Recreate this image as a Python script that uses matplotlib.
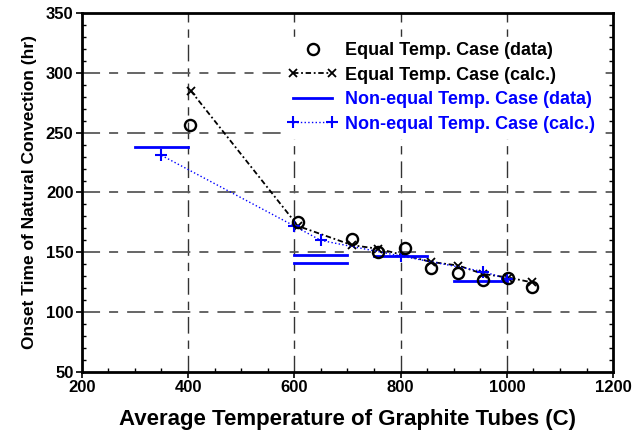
import numpy as np
import matplotlib
matplotlib.use('Agg')
import matplotlib.pyplot as plt
from matplotlib.lines import Line2D
from matplotlib.legend_handler import HandlerLine2D
from matplotlib.ticker import MultipleLocator

plt.rcParams['font.family'] = ['Liberation Sans', 'DejaVu Sans']
plt.rcParams['font.weight'] = 'bold'

# equal temperature case
eq_data_x = [403, 607, 708, 758, 808, 858, 909, 955, 1003, 1047]
eq_data_y = [256, 175, 161, 150, 154, 137, 133, 127, 129, 121]
eq_calc_x = [405, 607, 709, 758, 858, 909, 955, 1003, 1047]
eq_calc_y = [285, 172, 156, 153, 142, 139, 132, 129, 125]

# non-equal temperature case: measured ranges (x from, x to, y)
neq_data_x0 = [300, 600, 600, 750, 900]
neq_data_x1 = [400, 700, 700, 850, 1000]
neq_data_y = [238, 148, 141, 147, 126]
neq_calc_x = [350, 600, 650, 800, 955, 1000]
neq_calc_y = [231, 172, 160, 147, 134, 128]

blue = '#0000ff'

fig = plt.figure(figsize=(6.44, 4.42), dpi=100)
ax = fig.add_axes([0.127, 0.158, 0.825, 0.813])

ax.set_xlim(200, 1200)
ax.set_ylim(50, 350)
ax.xaxis.set_major_locator(MultipleLocator(200))
ax.xaxis.set_minor_locator(MultipleLocator(50))
ax.yaxis.set_major_locator(MultipleLocator(50))
ax.yaxis.set_minor_locator(MultipleLocator(10))

# grid
for gx in [400, 600, 800, 1000]:
    ax.axvline(gx, color='0.2', lw=1.0, dashes=(12, 5, 6, 5), zorder=1)
for gy in [100, 150, 200, 250, 300]:
    ax.axhline(gy, color='0.35', lw=1.3, dashes=(10, 5, 5, 5), zorder=1)

ax.plot(eq_calc_x, eq_calc_y, color='black', lw=1.3, dashes=(3, 1.5, 1, 1.5),
        marker='x', ms=6, mew=1.3, zorder=3)
ax.plot(eq_data_x, eq_data_y, ls='none', marker='o', ms=8, mfc='none',
        mec='black', mew=1.7, zorder=4)
for x0, x1, y in zip(neq_data_x0, neq_data_x1, neq_data_y):
    ax.plot([x0, x1], [y, y], color=blue, lw=2.0, zorder=3)
ax.plot(neq_calc_x, neq_calc_y, color=blue, lw=1.0, ls=':', marker='+',
        ms=8, mew=1.5, zorder=3)

for s in ax.spines.values():
    s.set_linewidth(2.0)
ax.tick_params(which='major', direction='out', length=4, width=1.2,
               labelsize=12, pad=2)
ax.tick_params(which='minor', direction='in', length=3, width=1.0)
ax.tick_params(axis='y', which='minor', right=True)
for lab in ax.get_xticklabels() + ax.get_yticklabels():
    lab.set_fontweight('bold')

ax.set_xlabel('Average Temperature of Graphite Tubes (C)', fontsize=16,
              fontweight='bold', labelpad=10)
ax.set_ylabel('Onset Time of Natural Convection (hr)', fontsize=12.5,
              fontweight='bold', labelpad=6)

h1 = Line2D([], [], ls='none', marker='o', ms=8, mfc='none', mec='black', mew=1.7)
h2 = Line2D([], [], color='black', lw=1.3, dashes=(3, 1.5, 1, 1.5),
            marker='x', ms=6, mew=1.3)
h3 = Line2D([], [], color=blue, lw=2.0)
h4 = Line2D([], [], color=blue, lw=1.0, ls=':', marker='+', ms=8, mew=1.5)
leg = ax.legend([h1, h2, h3, h4],
                ['Equal Temp. Case (data)', 'Equal Temp. Case (calc.)',
                 'Non-equal Temp. Case (data)', 'Non-equal Temp. Case (calc.)'],
                handler_map={h1: HandlerLine2D(numpoints=1)},
                loc='upper left', bbox_to_anchor=(0.378, 0.933), borderaxespad=0,
                numpoints=2, frameon=True, fancybox=False, edgecolor='white',
                framealpha=1, fontsize=13, handlelength=2.75, handletextpad=0.4,
                labelspacing=0.41, borderpad=0.3)
for txt, c in zip(leg.get_texts(), ['black', 'black', blue, blue]):
    txt.set_color(c)
    txt.set_fontweight('bold')
leg.set_zorder(5)

fig.savefig('out.png', dpi=100)
